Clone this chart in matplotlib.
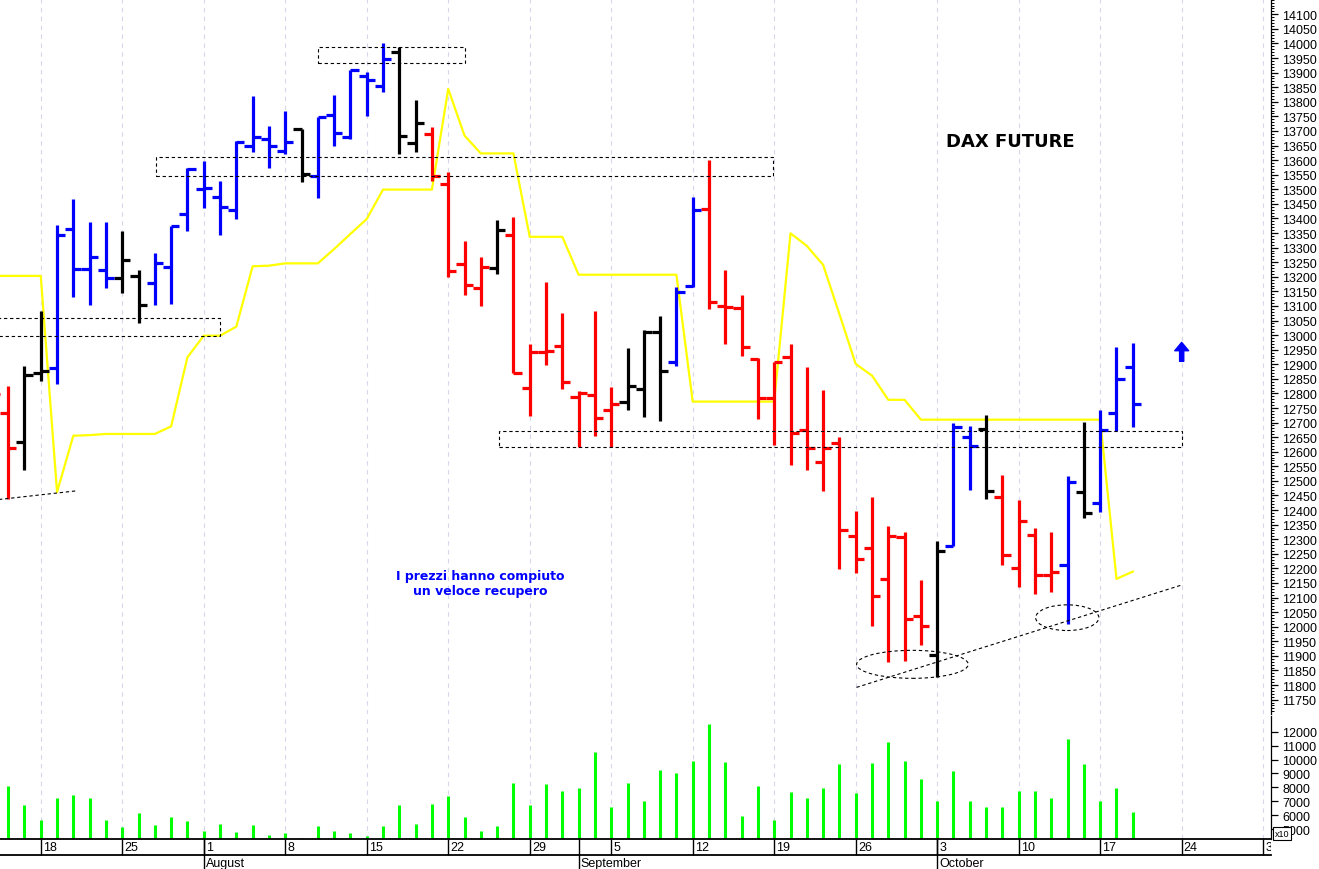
import numpy as np
import pandas as pd
from matplotlib import pyplot as plt
from matplotlib.patches import Ellipse, Rectangle
from matplotlib.ticker import MultipleLocator, FormatStrFormatter

plt.rcParams['font.family'] = ['Liberation Sans', 'DejaVu Sans']

# trading-day calendar of the axis (13 Jul -> 4 Nov 2022), bars run to 19 Oct
days = pd.bdate_range('2022-07-13', '2022-11-04')

opens = [12850, 12733, 12633, 12870, 12887, 13364, 13227, 13224, 13195, 13204,
         13178, 13235, 13414, 13500, 13474, 13430, 13649, 13672, 13632, 13707,
         13544, 13755, 13680, 13887, 13853, 13972, 13659, 13690, 13518, 13244,
         13160, 13229, 13343, 12817, 12941, 12964, 12787, 12795, 12744, 12772,
         12815, 13009, 12907, 13167, 13432, 13101, 13092, 12918, 12784, 12924,
         12676, 12564, 12629, 12310, 12269, 12164, 12307, 12038, 11903, 12278,
         12650, 12678, 12444, 12201, 12316, 12177, 12212, 12461, 12424, 12732,
         12890]
highs = [12900, 12825, 12894, 13083, 13379, 13466, 13387, 13387, 13356, 13224,
         13280, 13375, 13572, 13596, 13530, 13667, 13819, 13718, 13769, 13707,
         13747, 13824, 13909, 13901, 14002, 13987, 13807, 13715, 13558, 13324,
         13267, 13396, 13404, 12969, 13181, 13075, 12809, 13082, 12821, 12955,
         13018, 13064, 13164, 13472, 13600, 13224, 13138, 12921, 12909, 12969,
         12890, 12812, 12650, 12396, 12444, 12346, 12324, 12161, 12295, 12697,
         12689, 12727, 12521, 12436, 12339, 12324, 12518, 12703, 12744, 12958,
         12972]
lows = [12700, 12438, 12537, 12843, 12832, 13132, 13103, 13163, 13144, 13041,
        13103, 13107, 13356, 13436, 13343, 13398, 13627, 13572, 13621, 13526,
        13470, 13649, 13672, 13752, 13832, 13621, 13629, 13529, 13198, 13138,
        13101, 13209, 12869, 12721, 12897, 12815, 12615, 12653, 12615, 12743,
        12718, 12704, 12893, 13164, 13089, 12969, 12927, 12712, 12624, 12556,
        12538, 12464, 12198, 12183, 12003, 11878, 11881, 11937, 11829, 12278,
        12469, 12438, 12212, 12137, 12112, 12118, 12009, 12372, 12392, 12672,
        12684]
closes = [12798, 12613, 12863, 12878, 13343, 13227, 13267, 13195, 13257, 13103,
          13246, 13375, 13570, 13505, 13438, 13663, 13680, 13649, 13661, 13552,
          13747, 13692, 13909, 13875, 13947, 13684, 13727, 13547, 13221, 13172,
          13232, 13361, 12870, 12941, 12944, 12840, 12801, 12716, 12764, 12824,
          13009, 12876, 13147, 13430, 13112, 13095, 12958, 12784, 12909, 12663,
          12612, 12612, 12332, 12232, 12104, 12310, 12027, 12003, 12261, 12684,
          12619, 12464, 12247, 12361, 12177, 12189, 12495, 12390, 12675, 12849,
          12764]
# bar colouring: b = up trend, r = down trend, k = neutral
trend = list("rrkkbbbbkkbbbbbbbbbkbbbbbkkrrrrkrrrrrrrkkkbbrrrrrrrrrrrrrrkbbkrrrrbkbbb")
signal = [13203, 13203, 13203, 13203, 12462, 12655, 12657, 12661, 12661, 12661,
          12661, 12687, 12924, 12998, 12998, 13029, 13236, 13238, 13246, 13246,
          13246, 13295, 13347, 13398, 13499, 13499, 13499, 13499, 13844, 13684,
          13623, 13623, 13623, 13337, 13337, 13337, 13207, 13207, 13207, 13207,
          13207, 13207, 13207, 12772, 12772, 12772, 12772, 12772, 12772, 13349,
          13306, 13241, 13072, 12901, 12861, 12778, 12778, 12710, 12710, 12710,
          12710, 12710, 12710, 12710, 12710, 12710, 12710, 12710, 12710, 12164,
          12189]
volume = [7000, 8070, 6750, 5630, 7210, 7450, 7210, 5650, 5170, 6150,
          5290, 5860, 5580, 4830, 5360, 4760, 5290, 4570, 4690, 4350,
          5220, 4880, 4690, 4480, 5220, 6750, 5360, 6780, 7370, 5860,
          4880, 5220, 8290, 6750, 8220, 7710, 7950, 10520, 6600, 8290,
          6990, 9250, 9050, 9870, 12530, 9800, 5940, 8070, 5630, 7660,
          7210, 7930, 9680, 7570, 9750, 11240, 9870, 8620, 6990, 9150,
          7040, 6560, 6600, 7730, 7710, 7210, 11450, 9680, 7040, 7930,
          6200]

price_ticks = np.arange(11750, 14101, 50)
vol_ticks = np.arange(5000, 12001, 1000)
month_names = {8: 'August', 9: 'September', 10: 'October'}

colors = {'b': '#0000ff', 'r': '#ff0000', 'k': '#000000'}
n = len(opens)
pos = np.arange(len(days)) - 3       # 18 Jul 2022 -> 0
x = pos[:n]
bar_col = [colors[t] for t in trend]
XLIM = (-2.5, 75.48)

W, H = 1319, 870
fig = plt.figure(figsize=(W / 100, H / 100), dpi=100)


def box(x0, y0, x1, y1):
    return [x0 / W, 1 - y1 / H, (x1 - x0) / W, (y1 - y0) / H]


ax = fig.add_axes(box(0, 0, 1271, 715))
axv = fig.add_axes(box(0, 717, 1271, 840))
axd = fig.add_axes(box(0, 840, 1271, 870))

mondays = pos[days.weekday == 0]
for a in (ax, axv):
    for m in mondays:
        a.axvline(m, color='#d6d6ec', lw=0.8, ls=(0, (4, 4)), zorder=0)

# price bars
ax.vlines(x, lows, highs, colors=bar_col, lw=2.3, zorder=3)
ax.hlines(opens, x - 0.5, x, colors=bar_col, lw=2.3, zorder=3)
ax.hlines(closes, x, x + 0.5, colors=bar_col, lw=2.3, zorder=3)
ax.plot(x, signal, color='#ffff00', lw=1.6, zorder=2)

# drawn annotations
dash = (0, (3, 2.5))
for (d0, d1, p0, p1) in [(17, 26, 13932, 13987), (7.1, 44.9, 13545, 13610),
                         (-2.6, 11, 12996, 13060), (28.1, 70, 12617, 12672)]:
    ax.add_patch(Rectangle((d0, p0), d1 - d0, p1 - p0, fill=False, ec='black',
                           lw=0.8, ls=dash, zorder=4))
ax.plot([-2.6, 2.2], [12436, 12466], color='black', lw=0.8, ls=dash, zorder=4)
ax.plot([50.05, 70], [11792, 12143], color='black', lw=0.8, ls=dash, zorder=4)
ax.add_patch(Ellipse((53.48, 11871), 6.85, 96, fill=False, ec='black',
                     lw=0.8, ls=dash, zorder=4))
ax.add_patch(Ellipse((62.98, 12031), 3.88, 88, fill=False, ec='black',
                     lw=0.8, ls=dash, zorder=4))
ax.annotate('', xy=(70, 12975), xytext=(70, 12910),
            arrowprops=dict(fc='#0000ff', ec='#0000ff', width=3, headwidth=10,
                            headlength=6, shrink=0))
ax.text(59.5, 13665, 'DAX FUTURE', family='DejaVu Sans', weight='bold',
        fontsize=13, ha='center', va='center')
ax.text(26.95, 12150, 'I prezzi hanno compiuto\nun veloce recupero',
        family='DejaVu Sans', weight='bold', fontsize=9, color='#0000ff',
        ha='center', va='center', multialignment='center', linespacing=1.15)

ax.set_xlim(*XLIM)
ax.set_ylim(11700.7, 14152.5)
ax.yaxis.tick_right()
ax.set_yticks(price_ticks)
ax.yaxis.set_minor_locator(MultipleLocator(10))
ax.yaxis.set_major_formatter(FormatStrFormatter('%d'))
ax.set_xticks([])

# volume
axv.vlines(x, 0, volume, colors='#00ff00', lw=2.2)
axv.set_xlim(*XLIM)
axv.set_ylim(4281, 13130)
axv.yaxis.tick_right()
axv.set_yticks(vol_ticks)
axv.yaxis.set_major_formatter(FormatStrFormatter('%d'))
axv.set_xticks([])

for a in (ax, axv):
    for s in ('left', 'top', 'bottom'):
        a.spines[s].set_visible(False)
    a.spines['right'].set_linewidth(0.9)
    a.tick_params(axis='y', which='major', direction='out', length=5, width=0.9,
                  pad=3, labelsize=9)
    a.tick_params(axis='y', which='minor', direction='out', length=2.5, width=0.7)

# date strip
axd.set_xlim(*XLIM)
axd.set_ylim(30, 0)
axd.axis('off')
axd.axhline(0, color='black', lw=1.3, clip_on=False)
axd.axhline(15.7, color='black', lw=1.3, clip_on=False)
axd.vlines(mondays, 0, 15.7, colors='black', lw=1)
for m, dt in zip(mondays, days[days.weekday == 0]):
    axd.text(m + 0.13, 8.5, str(dt.day), fontsize=9, ha='left', va='center',
             clip_on=True)
first_of_month = days.to_series().groupby(days.month).head(1).index[1:]
for dt in first_of_month:
    p = pos[days.get_loc(dt)]
    if p > XLIM[1] or dt.month not in month_names:
        continue
    axd.vlines(p, 0, 30, colors='black', lw=1)
    axd.text(p + 0.13, 24, month_names[dt.month], fontsize=9, ha='left',
             va='center', clip_on=True)

fig.text(1282 / W, 1 - 834.3 / H, 'x10', fontsize=6.5, ha='center', va='center',
         bbox=dict(boxstyle='square,pad=0.2', fc='white', ec='black', lw=0.8))

fig.savefig('out.png', dpi=100, facecolor='white')
